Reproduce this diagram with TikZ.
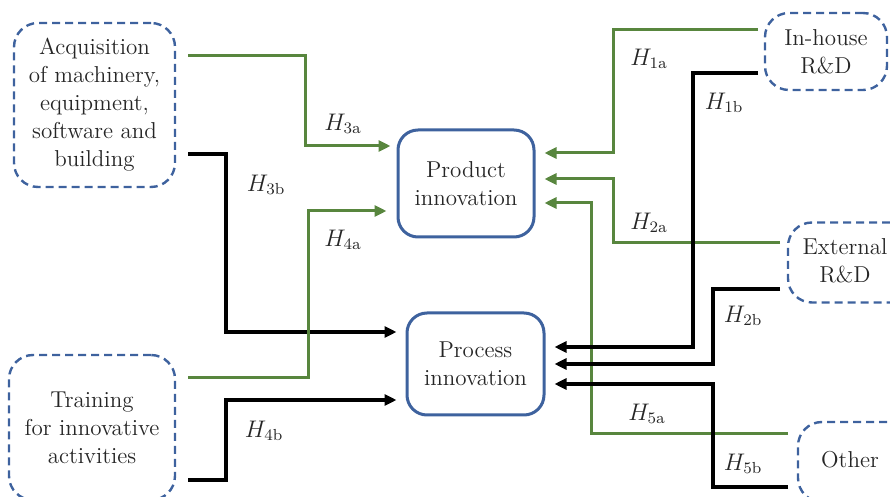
\documentclass[tikz,border=0pt]{standalone}
\usepackage{tikz}
\usetikzlibrary{positioning,arrows.meta}
\definecolor{boxblue}{RGB}{62,98,158}
\definecolor{linkgreen}{RGB}{88,134,62}
\tikzset{>={Triangle[length=6pt,width=5.5pt]},
  every node/.style={font=\fontsize{11.5}{14}\selectfont, text=black!85},
  factor/.style={draw=boxblue, line width=1.2pt, dash pattern=on 4pt off 2.5pt,
    rounded corners=12pt, align=center, inner sep=0pt},
  outcome/.style={draw=boxblue, line width=1.5pt, rounded corners=10pt,
    align=center, inner sep=0pt},
  grn/.style={draw=linkgreen, line width=1.5pt, ->},
  blk/.style={draw=black, line width=1.6pt, ->},
  hyp/.style={inner sep=0pt}
}
% text block pushed left inside a box that runs off the page
\newcommand\lefttext[2]{\begin{tabular}{@{}c@{}}#1\end{tabular}\kern#2}

\begin{document}
\begin{tikzpicture}[x=0.5pt,y=-0.5pt]
    \useasboundingbox (0,0) rectangle (890,497);
    \clip (0,0) rectangle (890,497);
    % determinants
    \node [factor,minimum width=80.5pt,minimum height=82pt] (acq) at (94.5,105)
        {Acquisition\\of machinery,\\equipment,\\software and\\building};
    \node [factor,minimum width=83pt,minimum height=72.5pt] (train) at (92,427.5)
        {Training\\for innovative\\activities};
    \node [factor,minimum width=61pt,minimum height=38.5pt] (inhouse) at (826,51.5) {In-house\\R\&D};
    \node [factor,minimum width=76pt,minimum height=40pt] (ext) at (864,262.5)
        {\lefttext{External\\R\&D}{19pt}};
    \node [factor,minimum width=76pt,minimum height=40pt] (other) at (874,462)
        {\lefttext{Other}{24pt}};
    % outcomes
    \node [outcome,minimum width=68pt,minimum height=53.5pt] (prod) at (466,183.5) {Product\\innovation};
    \node [outcome,minimum width=68.5pt,minimum height=51pt] (proc) at (475.5,364) {Process\\innovation};
    % line ends next to the boxes
    \coordinate (s3a) at (188,56);
    \coordinate (s3b) at (188,154);
    \coordinate (s4a) at (188,378);
    \coordinate (s4b) at (188,480);
    \coordinate (s1a) at (758,30);
    \coordinate (s1b) at (758,73);
    \coordinate (s2a) at (780,243);
    \coordinate (s2b) at (780,289);
    \coordinate (s5a) at (788,434);
    \coordinate (s5b) at (788,487);
    % left side
    \draw [blk,shorten >=4.5pt] (s3b) -| (226,332) -- (proc.west |- 0,332);
    \draw [blk,shorten >=4.5pt] (s4b) -| (226,400) -- (proc.west |- 0,400);
    \draw [grn,shorten >=3pt] (s3a) -| (305,146) -- (prod.west |- 0,146);
    \draw [grn,shorten >=5pt] (s4a) -| (308,211) -- (prod.west |- 0,211);
    % right side
    \draw [grn,shorten >=4.5pt] (s1a) -| (613,153) -- (prod.east |- 0,153);
    \draw [grn,shorten >=4.5pt] (s2a) -| (613,179) -- (prod.east |- 0,179);
    \draw [grn,shorten >=4.5pt] (s5a) -| (591,203) -- (prod.east |- 0,203);
    \draw [blk,shorten >=4.5pt] (s1b) -| (693,347) -- (proc.east |- 0,347);
    \draw [blk,shorten >=4.5pt] (s2b) -| (713,364) -- (proc.east |- 0,364);
    \draw [blk,shorten >=4.5pt] (s5b) -| (713,384) -- (proc.east |- 0,384);
    % hypotheses
    \node [hyp] (h3a) at (343,124) {$H_{\mathrm{3a}}$};
    \node [hyp] (h3b) at (266,185) {$H_{\mathrm{3b}}$};
    \node [hyp] (h4a) at (343,240) {$H_{\mathrm{4a}}$};
    \node [hyp] (h4b) at (264,431) {$H_{\mathrm{4b}}$};
    \node [hyp] (h1a) at (649,59) {$H_{\mathrm{1a}}$};
    \node [hyp] (h1b) at (724,103) {$H_{\mathrm{1b}}$};
    \node [hyp] (h2a) at (649,223) {$H_{\mathrm{2a}}$};
    \node [hyp] (h2b) at (743,316) {$H_{\mathrm{2b}}$};
    \node [hyp] (h5a) at (647,414) {$H_{\mathrm{5a}}$};
    \node [hyp] (h5b) at (743,464) {$H_{\mathrm{5b}}$};
\end{tikzpicture}
\end{document}
